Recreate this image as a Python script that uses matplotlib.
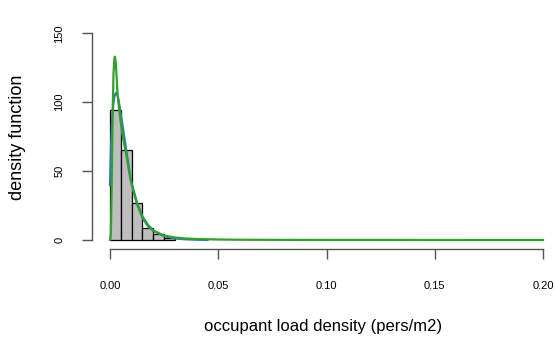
import matplotlib
matplotlib.use("Agg")
import matplotlib.pyplot as plt

plt.rcParams["font.family"] = ["Liberation Sans", "DejaVu Sans"]

# ------------- data -------------
bin_edges = [0.0, 0.005, 0.010, 0.015, 0.020, 0.025, 0.030]
bin_heights = [94, 65, 27, 9, 4, 1.5]

# blue fitted density
blue_x = [0.0, 0.0005, 0.001, 0.0015, 0.002, 0.0025, 0.003, 0.0035, 0.004, 0.005,
          0.006, 0.0075, 0.009, 0.010, 0.0125, 0.015, 0.0175, 0.020, 0.025, 0.030,
          0.035, 0.040, 0.045]
blue_y = [40, 70, 88, 98, 104, 106, 107, 105, 101, 91,
          81, 65, 50, 41, 27, 17, 11, 7, 2.8, 1.1,
          0.5, 0.2, 0.05]

# green fitted density
green_x = [0.0, 0.0004, 0.0008, 0.0012, 0.0016, 0.002, 0.0023, 0.0027, 0.003, 0.0035,
           0.004, 0.0046, 0.0055, 0.0065, 0.0075, 0.009, 0.010, 0.0125, 0.015, 0.0175,
           0.020, 0.025, 0.030, 0.035, 0.040, 0.050, 0.060, 0.080, 0.10, 0.15, 0.20]
green_y = [0, 5, 40, 90, 120, 131, 133, 128, 120, 106,
           98, 90, 79, 70, 62, 48, 40, 26, 16, 10,
           6.5, 3.2, 1.8, 1.1, 0.7, 0.35, 0.2, 0.08, 0.04, 0.01, 0.0]

# ------------- figure -------------
W, H = 555, 338
fig = plt.figure(figsize=(W / 100, H / 100), dpi=100)
ax = fig.add_axes([92 / W, 1 - 249 / H, (W - 92) / W, (249 - 25) / H])

# pixel mapping: x 0 -> 110px, 0.2 -> 543px; y 0 -> 240px, 150 -> 33px
xs = 0.2 / (543 - 110)
ax.set_xlim(-(110 - 92) * xs, 0.2 + (W - 543) * xs)
ys = 150 / (240 - 33.3)
ax.set_ylim(-(249 - 240) * ys, 150 + (33.3 - 25) * ys)

widths = [b - a for a, b in zip(bin_edges[:-1], bin_edges[1:])]
ax.bar(bin_edges[:-1], bin_heights, width=widths, align="edge",
       color="#bebebe", edgecolor="black", linewidth=0.9, zorder=1)
ax.plot(blue_x, blue_y, color="#2a78b8", linewidth=1.6, zorder=2)
ax.plot(green_x, green_y, color="#33a02c", linewidth=1.6, zorder=3)

for s in ["top", "right"]:
    ax.spines[s].set_visible(False)
ax.spines["left"].set_bounds(0, 150)
ax.spines["bottom"].set_bounds(0, 0.2)
for s in ["left", "bottom"]:
    ax.spines[s].set_color("#555555")
    ax.spines[s].set_linewidth(1.0)

ax.set_xticks([0.0, 0.05, 0.10, 0.15, 0.20])
ax.set_xticklabels(["0.00", "0.05", "0.10", "0.15", "0.20"])
ax.set_yticks([0, 50, 100, 150])
ax.set_yticklabels(["0", "50", "100", "150"], rotation=90, va="center")
ax.tick_params(axis="both", length=7, width=1.0, color="#555555", labelsize=8)
ax.tick_params(axis="x", pad=16)
ax.tick_params(axis="y", pad=13)

ax.set_xlabel("occupant load density (pers/m2)", fontsize=12, labelpad=20)
ax.set_ylabel("density function", fontsize=13, labelpad=20)

fig.savefig("out.png", dpi=100)
